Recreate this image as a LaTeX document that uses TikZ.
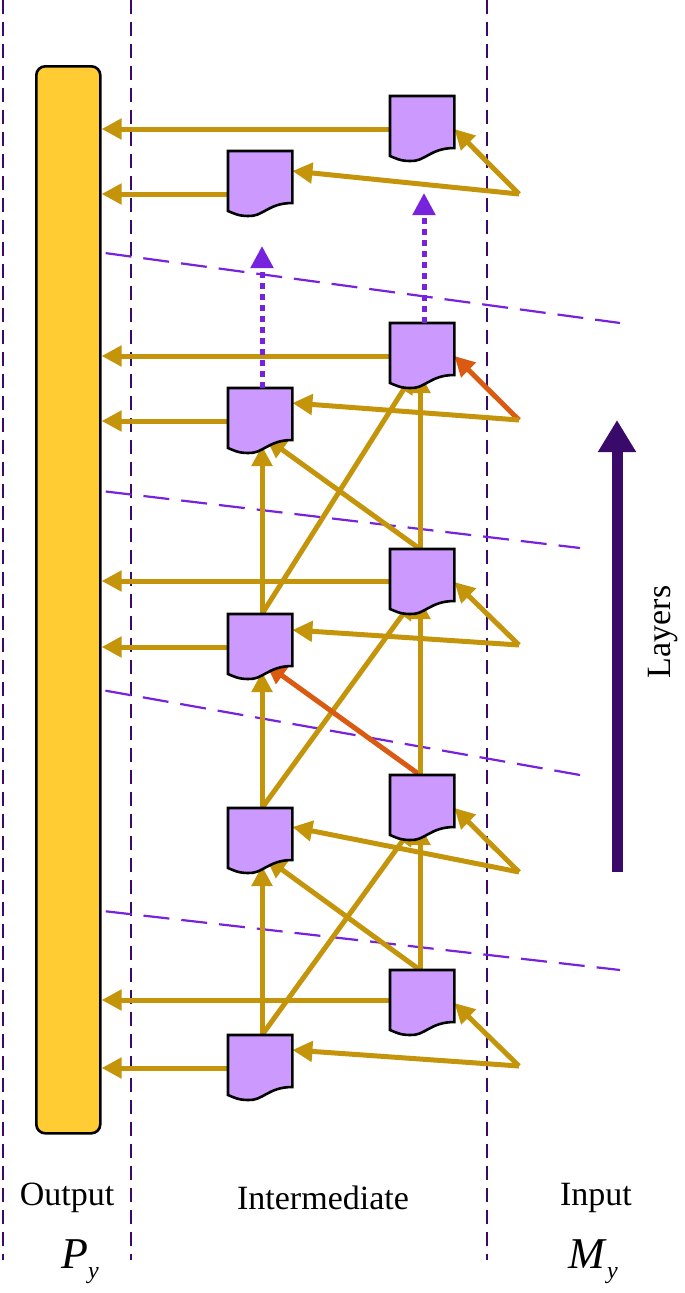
\documentclass[tikz,border=0pt]{standalone}
\usepackage{fontspec}
\setmainfont{Liberation Serif}
\usetikzlibrary{arrows.meta,calc}
\definecolor{gold}{HTML}{C4940A}
\definecolor{org}{HTML}{D95A10}
\definecolor{vio}{HTML}{7722DD}
\definecolor{dvio}{HTML}{3A0A6A}
\definecolor{lil}{HTML}{CC99FF}
\definecolor{bar}{HTML}{FFCC33}
\tikzset{
 docbox/.style={minimum width=64pt,minimum height=64pt,inner sep=0pt,anchor=north west},
 link/.style={draw=gold,line width=5pt,-{Triangle[length=20pt,width=20pt]}},
 olink/.style={draw=org,line width=5pt,-{Triangle[length=20pt,width=20pt]}},
 dots/.style={draw=vio,line width=5pt,dash pattern=on 6pt off 5pt,-{Triangle[length=22pt,width=22pt]}},
 sep/.style={draw=dvio,line width=1.8pt,dash pattern=on 14pt off 8pt},
 lay/.style={draw=vio,line width=2.2pt,dash pattern=on 26pt off 12pt},
 lbl/.style={font=\fontsize{34}{38}\selectfont,inner sep=0pt}
}
\newcommand{\docshape}[1]{%
 \draw[line width=2.6pt,fill=lil] (#1.north west) -- (#1.north east) -- ($(#1.north east)+(0,52)$)
  .. controls ($(#1.north west)+(40,52)$) and ($(#1.north west)+(35,66)$) .. ($(#1.north west)+(20,65)$)
  .. controls ($(#1.north west)+(10,65)$) and ($(#1.north west)+(5,62)$) .. ($(#1.north west)+(0,60)$) -- cycle;}
\begin{document}
\begin{tikzpicture}[x=1pt,y=-1pt]
\useasboundingbox (0,0) rectangle (685,1293);
\draw[sep] (3,0) -- (3,1260);
\draw[sep] (131,0) -- (131,1260);
\draw[sep] (487,0) -- (487,1260);
\draw[lay] (68,248) -- (620,323);
\draw[lay] (68,487) -- (580,548);
\draw[lay] (68,684) -- (580,775);
\draw[lay] (68,907) -- (620,970);
\node[draw,line width=2.6pt,fill=bar,rounded corners=9pt,minimum width=64pt,minimum height=1067pt,anchor=north west,inner sep=0pt] (bar) at (35,65) {};
\node[docbox] (R1) at (390,96) {};
\node[docbox] (R2) at (390,323) {};
\node[docbox] (R3) at (390,549) {};
\node[docbox] (R4) at (390,775) {};
\node[docbox] (R5) at (390,970) {};
\node[docbox] (L1) at (228,151) {};
\node[docbox] (L2) at (228,388) {};
\node[docbox] (L3) at (228,614) {};
\node[docbox] (L4) at (228,808) {};
\node[docbox] (L5) at (228,1035) {};
\coordinate (A1) at (519,194);
\coordinate (A2) at (519,420);
\coordinate (A3) at (519,645);
\coordinate (A4) at (519,872);
\coordinate (A5) at (519,1066);
\foreach \n/\d in {R1/33,R2/33,R3/32,R5/30,L1/43,L2/33,L3/33,L5/33}{
  \coordinate (p) at ($(\n.north west)+(0,\d)$);
  \draw[link] (p) -- (p -| bar.east);
}
\foreach \a/\l/\r in {L2/L3/R2,L3/L4/R3,L4/L5/R4}{
  \draw[link] ($(\l.north west)+(34,0)$) -- ($(\a.north west)+(34,58)$);
  \draw[link] ($(\l.north west)+(34,0)$) -- ($(\r.north west)+(24,50)$);
}
\draw[link] ($(R3.north west)+(30,0)$) -- ($(L2.north west)+(38,50)$);
\draw[link] ($(R3.north west)+(30,0)$) -- ($(R2.north west)+(30,50)$);
\draw[olink] ($(R4.north west)+(30,0)$) -- ($(L3.north west)+(38,50)$);
\draw[link] ($(R4.north west)+(30,0)$) -- ($(R3.north west)+(30,50)$);
\draw[link] ($(R5.north west)+(30,0)$) -- ($(L4.north west)+(38,50)$);
\draw[link] ($(R5.north west)+(30,0)$) -- ($(R4.north west)+(30,50)$);
\foreach \i in {1,3,4,5} \draw[link] (A\i) -- ($(R\i.north east)+(0,33)$);
\draw[olink] (A2) -- ($(R2.north east)+(0,33)$);
\foreach \i/\d in {1/20,2/15,3/16,4/19,5/15} \draw[link] (A\i) -- ($(L\i.north east)+(0,\d)$);
\foreach \n in {R1,R2,R3,R4,R5,L1,L2,L3,L4,L5} \docshape{\n}
\coordinate (T1) at (262,246);
\coordinate (T2) at (424,193);
\draw[dots] ($(L2.north west)+(34,0)$) -- (T1);
\draw[dots] ($(R2.north west)+(34,0)$) -- (T2);
\coordinate (LB) at (617,872);
\coordinate (LT) at (617,420);
\draw[draw=dvio,line width=11pt,-{Triangle[length=32pt,width=36pt]}] (LB) -- (LT);
\node[lbl,rotate=90] (layers) at (663,632) {Layers};
\node[lbl] (out) at (67,1198) {Output};
\node[lbl] (mid) at (323,1198) {Intermediate};
\node[lbl] (inp) at (596,1198) {Input};
\node[lbl,font=\fontsize{44}{48}\selectfont] (py) at (80,1262) {\textit{P}\raisebox{-10pt}{\fontsize{24}{26}\selectfont\textit{y}}};
\node[lbl,font=\fontsize{44}{48}\selectfont] (my) at (593,1262) {\textit{M}\raisebox{-10pt}{\fontsize{24}{26}\selectfont\textit{y}}};
\end{tikzpicture}
\end{document}
